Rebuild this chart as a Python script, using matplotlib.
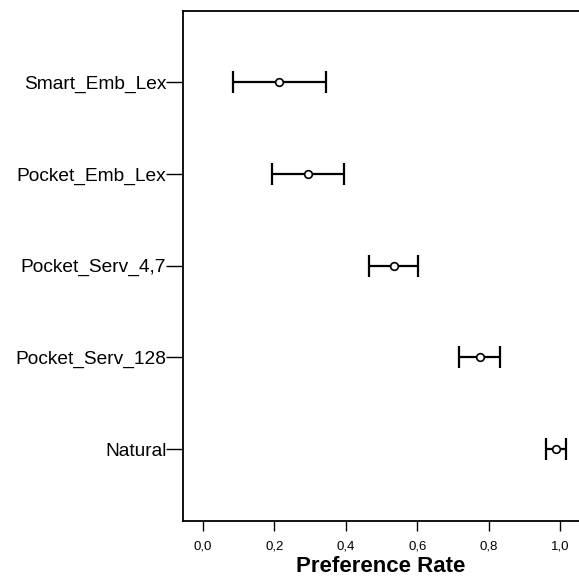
import numpy as np
import matplotlib.pyplot as plt

plt.rcParams['font.family'] = ['Liberation Sans', 'DejaVu Sans']

# Preference rate per condition (mean with lower / upper bounds of the interval)
conditions = ["Natural", "Pocket_Serv_128", "Pocket_Serv_4,7", "Pocket_Emb_Lex", "Smart_Emb_Lex"]
means = np.array([0.987, 0.774, 0.535, 0.294, 0.213])
lower = np.array([0.959, 0.716, 0.465, 0.193, 0.084])
upper = np.array([1.015, 0.831, 0.601, 0.395, 0.343])
x_ticks = [0.0, 0.2, 0.4, 0.6, 0.8, 1.0]
x_tick_labels = ["0,0", "0,2", "0,4", "0,6", "0,8", "1,0"]

fig = plt.figure(figsize=(5.79, 5.79), dpi=100)
ax = fig.add_axes([0.316, 0.1007, 0.684, 0.8808])

pos = np.arange(1, len(conditions) + 1)
ax.errorbar(means, pos, xerr=[means - lower, upper - means], fmt='none',
            ecolor='black', elinewidth=1.6, capsize=8, capthick=1.6)
ax.plot(means, pos, linestyle='', marker='o', markersize=5.5,
        markerfacecolor='white', markeredgecolor='black', markeredgewidth=1.2)

ax.set_xlim(-0.056, 1.052)
ax.set_ylim(0.22, 5.78)
ax.set_yticks(pos)
ax.set_yticklabels(conditions, fontsize=13.8)
ax.set_xticks(x_ticks)
ax.set_xticklabels(x_tick_labels, fontsize=9.5)
ax.tick_params(axis='y', length=12, width=1, pad=0)
ax.tick_params(axis='x', length=7, width=1, pad=7)
ax.set_xlabel("Preference Rate", fontsize=16, weight='bold', labelpad=3)

ax.spines['right'].set_visible(False)
for s in ['left', 'top', 'bottom']:
    ax.spines[s].set_linewidth(1.3)

fig.savefig("out.png", dpi=100)
